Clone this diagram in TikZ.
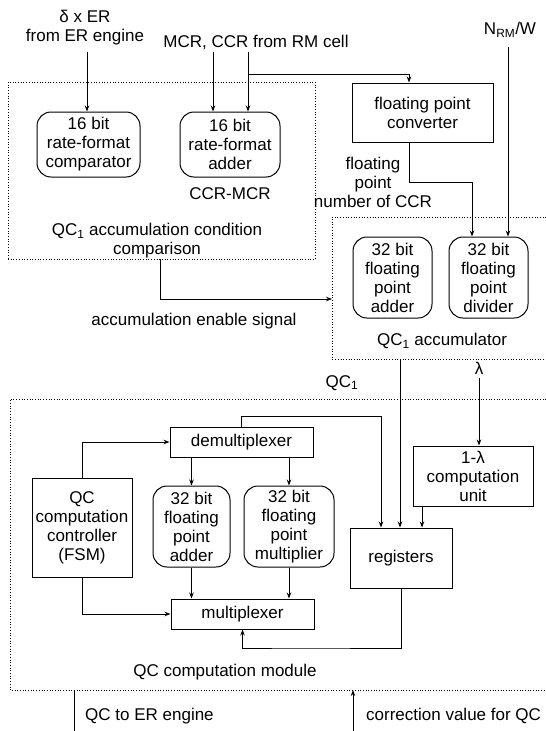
\documentclass[tikz,border=0pt]{standalone}
\usepackage{fontspec}
\setmainfont{Liberation Sans}
\usetikzlibrary{arrows.meta}

\tikzset{
  every node/.style={font=\fontsize{17}{19}\selectfont, align=center},
  unit/.style={draw, line width=1pt, inner sep=0pt},
  rbox/.style={unit, rounded corners=14pt},
  dotbox/.style={draw, dotted, line width=0.7pt},
  lbl/.style={inner sep=0pt},
  sig/.style={line width=0.9pt, -{Stealth[length=6pt,width=4.5pt]}},
  wire/.style={line width=0.9pt}
}

\begin{document}
\begin{tikzpicture}[x=1pt, y=-1pt]
  \useasboundingbox (0,0) rectangle (546,731);
  % QC1 accumulation condition comparison
  \node[dotbox, minimum width=307, minimum height=177] (cond) at (161.5,170.5) {};
  \node[rbox, minimum width=103, minimum height=65] (cmp) at (88.5,144.5) {16 bit\\rate-format\\comparator};
  \node[rbox, minimum width=100, minimum height=65] (radd) at (230,144.5) {16 bit\\rate-format\\adder};
  \node[lbl] (ccrmcr) at (230,194) {CCR-MCR};
  \node[lbl] (condlbl) at (157,241) {QC\textsubscript{1} accumulation condition\\comparison};
  % converter
  \node[unit, minimum width=141, minimum height=59] (conv) at (422.5,112.5) {floating point\\converter};
  \node[lbl] (fplbl) at (373,182) {floating\\point\\number of CCR};
  % QC1 accumulator
  \draw[dotbox] (546,217) -- (332,217) -- (332,359) -- (546,359);
  \node[rbox, minimum width=79, minimum height=81] (fadd) at (392.5,277.5) {32 bit\\floating\\point\\adder};
  \node[rbox, minimum width=79, minimum height=81] (fdiv) at (488.5,277.5) {32 bit\\floating\\point\\divider};
  \node[lbl] (acclbl) at (442,341) {QC\textsubscript{1} accumulator};
  \node[lbl] (enlbl) at (194,321) {accumulation enable signal};
  % inputs
  \node[lbl] (erlbl) at (85,28) {δ x ER\\from ER engine};
  \node[lbl] (mcrlbl) at (256,42) {MCR, CCR from RM cell};
  \node[lbl] (nrmlbl) at (510,30) {N\textsubscript{RM}/W};
  \coordinate (der) at (87,52);
  \coordinate (mcr1) at (213,52);
  \coordinate (mcr2) at (248,52);
  \coordinate (br) at (248,74);
  \coordinate (fp) at (472,182);
  \coordinate (nrm) at (508,47);
  \coordinate (ensig) at (160,259);
  \coordinate (accin) at (332,299);
  \draw[sig] (der) -- (der |- cmp.north);
  \draw[sig] (mcr1) -- (mcr1 |- radd.north);
  \draw[sig] (mcr2) -- (mcr2 |- radd.north);
  \draw[sig] (br) -| ([xshift=-13.5pt]conv.north);
  \draw[sig] ([xshift=-13.5pt]conv.south) |- (fp) -- (fp |- fdiv.north);
  \draw[sig] (nrm) -- (nrm |- fdiv.north);
  \draw[sig] (ensig) |- (accin);
  % QC computation module
  \draw[dotbox] (546,399) -- (10,399) -- (10,690) -- (546,690);
  \node[lbl] (qc1lbl) at (342,383) {QC\textsubscript{1}};
  \node[lbl] (lamlbl) at (479,368) {λ};
  \node[unit, minimum width=143, minimum height=30] (demux) at (241.5,442) {demultiplexer};
  \node[unit, minimum width=100, minimum height=99] (fsm) at (82,527.5) {QC\\computation\\controller\\(FSM)};
  \node[rbox, minimum width=77, minimum height=81] (qadd) at (191.5,526.5) {32 bit\\floating\\point\\adder};
  \node[rbox, minimum width=90, minimum height=81] (qmul) at (289,526.5) {32 bit\\floating\\point\\multiplier};
  \node[unit, minimum width=120, minimum height=60] (lam) at (473,476) {1-λ\\computation\\unit};
  \node[unit, minimum width=102, minimum height=60] (reg) at (401,558) {registers};
  \node[unit, minimum width=143, minimum height=30] (mux) at (242.5,614) {multiplexer};
  \node[lbl] (modlbl) at (225,672) {QC computation module};
  \coordinate (qc1) at (400,359);
  \coordinate (lamin) at (479,378);
  \coordinate (fb) at (381,416);
  \coordinate (ret) at (300,648);
  \draw[sig] (qc1) -- (qc1 |- reg.north);
  \draw[sig] (lamin) -- (lamin |- lam.north);
  \draw[sig] ([xshift=-51pt]lam.south) -- ([xshift=21pt]reg.north);
  \draw[sig] (demux.north) |- (fb) -- (fb |- reg.north);
  \draw[sig] (fsm.north) |- (demux.west);
  \draw[sig] (qadd.north |- demux.south) -- (qadd.north);
  \draw[sig] (qmul.north |- demux.south) -- (qmul.north);
  \draw[sig] (qadd.south) -- (qadd.south |- mux.north);
  \draw[sig] (qmul.south) -- (qmul.south |- mux.north);
  \draw[sig] (fsm.south) |- (mux.west);
  \draw[sig] (reg.south) |- (ret) -| (mux.south);
  % outputs
  \coordinate (qcout) at (74,690);
  \coordinate (qcend) at (74,731);
  \coordinate (corr) at (353,731);
  \coordinate (modbot) at (353,690);
  \draw[wire] (qcout) -- (qcend);
  \draw[sig] (corr) -- (modbot);
  \node[lbl, anchor=west] (qcerlbl) at (85,716) {QC to ER engine};
  \node[lbl, anchor=west] (corrlbl) at (366,716) {correction value for QC};
\end{tikzpicture}
\end{document}
